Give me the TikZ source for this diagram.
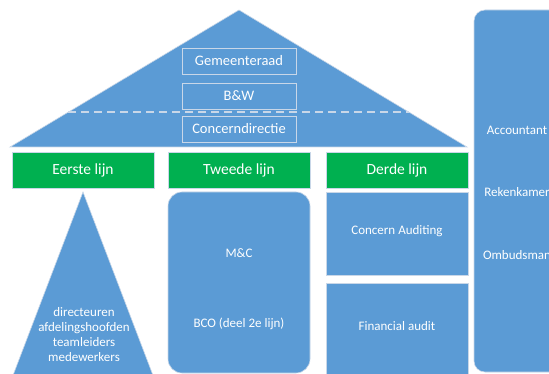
\documentclass[tikz,border=0pt]{standalone}
\usepackage{fontspec}
\setmainfont{Carlito}
\definecolor{roofblue}{HTML}{5B9BD5}
\definecolor{lineGreen}{HTML}{00B050}
\definecolor{edgegrey}{HTML}{C9D7E8}
\begin{document}
\begin{tikzpicture}[x=1pt,y=-1pt,
  bluebox/.style={fill=roofblue,draw=edgegrey,line width=0.6pt},
  innerbox/.style={draw=edgegrey,line width=0.6pt,minimum width=114pt,minimum height=26pt,inner sep=0pt,text=white,font=\fontsize{14.5}{16}\selectfont},
  greenbox/.style={fill=lineGreen,draw=edgegrey,line width=0.6pt,minimum width=142pt,minimum height=36pt,inner sep=0pt,text=white,font=\fontsize{15.5}{17}\selectfont},
  lbl/.style={text=white,font=\fontsize{13}{15}\selectfont,align=center,inner sep=0pt}]
\useasboundingbox (0,0) rectangle (549,374);
\clip (0,0) rectangle (549,374);
% roof
\coordinate (apex) at (239,10);
\coordinate (bl) at (10,147);
\coordinate (br) at (467,147);
\filldraw[bluebox] (apex) -- (br) -- (bl) -- cycle;
\coordinate (dl) at (68,112);
\coordinate (dr) at (409,112);
\draw[edgegrey,line width=1.2pt,dash pattern=on 8pt off 5pt] (dl) -- (dr);
\node[innerbox] (gr) at (239,61) {Gemeenteraad};
\node[innerbox] (bw) at (239,96) {B\&W};
\node[innerbox] (cd) at (239,129) {Concerndirectie};
% right column
\filldraw[bluebox,rounded corners=11pt] (474,10) rectangle (575,372);
\node[lbl] (acc) at (517,130) {Accountant};
\node[lbl] (rek) at (517,192) {Rekenkamer};
\node[lbl] (omb) at (517,255) {Ombudsman};
% green headers
\node[greenbox] (l1) at (83,170) {Eerste lijn};
\node[greenbox] (l2) at (239,170) {Tweede lijn};
\node[greenbox] (l3) at (397,170) {Derde lijn};
% first line triangle
\filldraw[bluebox] (83,192) -- (154,378) -- (12,378) -- cycle;
\node[lbl] (staff) at (84,335) {directeuren\\afdelingshoofden\\teamleiders\\medewerkers};
% second line
\filldraw[bluebox,rounded corners=14pt] (168,192) rectangle (310,373);
\node[lbl] (mc) at (239,253) {M\&C};
\node[lbl] (bco) at (239,324) {BCO (deel 2e lijn)};
% third line
\filldraw[bluebox] (326,192) rectangle (468,275);
\node[lbl] (ca) at (397,231) {Concern Auditing};
\filldraw[bluebox] (326,283) rectangle (468,380);
\node[lbl] (fa) at (397,326) {Financial audit};
\end{tikzpicture}
\end{document}
